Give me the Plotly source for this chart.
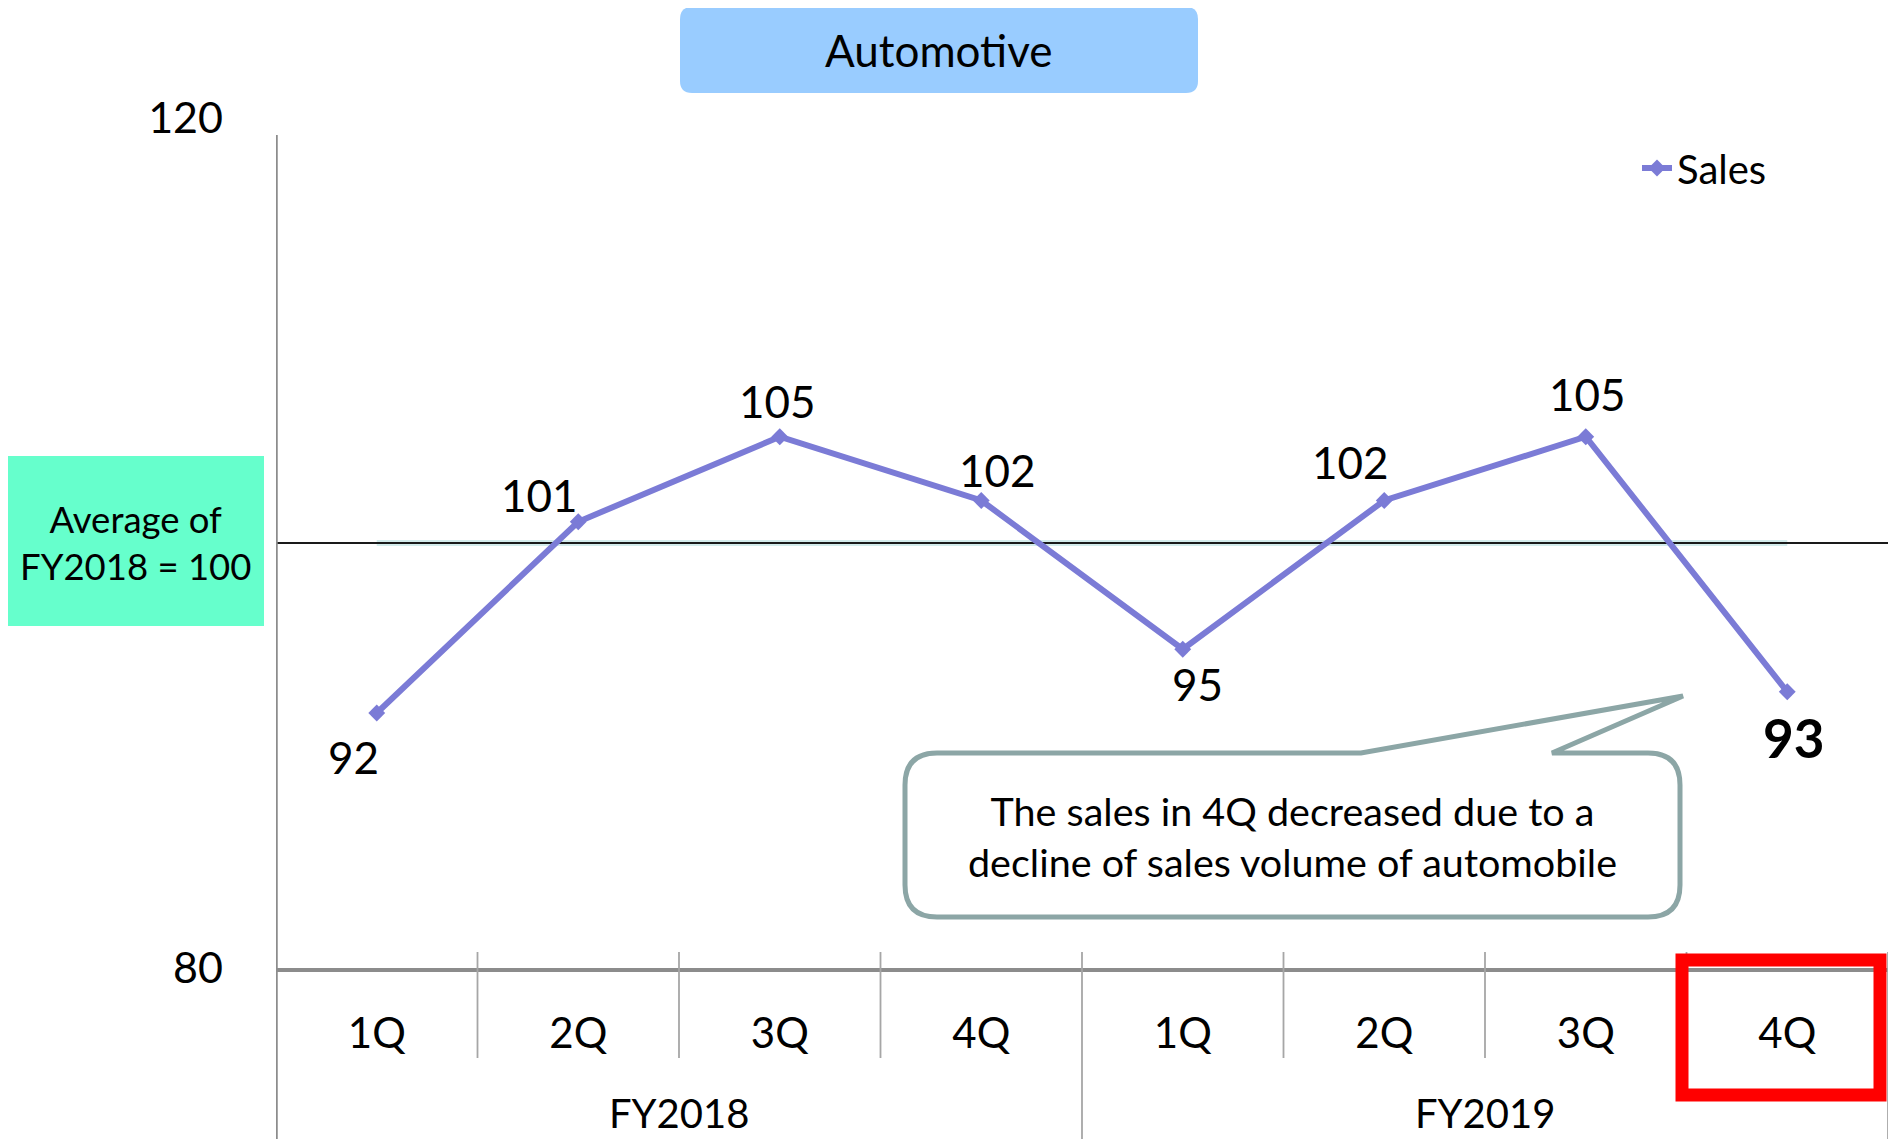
import plotly.graph_objects as go

# chart data
quarters = ["1Q", "2Q", "3Q", "4Q", "1Q", "2Q", "3Q", "4Q"]
fiscal_years = ["FY2018", "FY2019"]
sales = [92, 101, 105, 102, 95, 102, 105, 93]
average = [100, 100, 100, 100, 100, 100, 100, 100]

# label offsets (pixels) for each data label
label_dx = [-23, -39, -2, 16, 15, -34, 2, 6]
label_dy = [-44, 27, 36, 31, -35, 39, 43, -46]

FONT = "Lato"
# the page body has an 8px margin, so the figure is drawn 8px in from the corner
OFF = 8
W, H = 1896 - 2 * OFF, 1147 - 2 * OFF
L, T = 276 - OFF, 118 - OFF
PW, PH = 1612, 850
R, B = W - L - PW, H - T - PH


def px(x, y):
    # page pixel position -> paper coordinates
    return (x - OFF - L) / PW, (T + PH - (y - OFF)) / PH


def rounded_path(x0, y0, x1, y1, r, notch=None):
    def p(x, y):
        a, b = px(x, y)
        return f"{a:.5f},{b:.5f}"
    pts = ["M" + p(x0 + r, y0)]
    if notch:
        for (nx, ny) in notch:
            pts.append("L" + p(nx, ny))
    pts.append("L" + p(x1 - r, y0))
    pts.append("Q" + p(x1, y0) + " " + p(x1, y0 + r))
    pts.append("L" + p(x1, y1 - r))
    pts.append("Q" + p(x1, y1) + " " + p(x1 - r, y1))
    pts.append("L" + p(x0 + r, y1))
    pts.append("Q" + p(x0, y1) + " " + p(x0, y1 - r))
    pts.append("L" + p(x0, y0 + r))
    pts.append("Q" + p(x0, y0) + " " + p(x0 + r, y0))
    return " ".join(pts) + " Z"


xs = list(range(len(quarters)))
n = len(quarters)

fig = go.Figure()

fig.add_trace(go.Scatter(
    x=xs, y=average, mode="lines",
    line=dict(color="#D3ECEC", width=6),
    showlegend=False, hoverinfo="skip",
))
fig.add_trace(go.Scatter(
    x=[-0.5, n - 0.5], y=[average[0], average[-1]], mode="lines",
    line=dict(color="#1A1A1A", width=2.2),
    showlegend=False, hoverinfo="skip",
))
fig.add_trace(go.Scatter(
    x=xs, y=sales, mode="lines+markers", name="Sales",
    line=dict(color="#7B7BD6", width=6),
    marker=dict(symbol="diamond", size=13, color="#7B7BD6"),
))

annotations = []
for i, v in enumerate(sales):
    last = i == n - 1
    annotations.append(dict(
        x=xs[i], y=v, xref="x", yref="y", text=f"<b>{v}</b>" if last else str(v),
        showarrow=False, xshift=label_dx[i], yshift=label_dy[i],
        xanchor="center", yanchor="middle",
        font=dict(family=FONT, size=53 if last else 44, color="black"),
    ))

# fiscal year group labels
for g, fy in enumerate(fiscal_years):
    gx = g * 4 + 1.5
    annotations.append(dict(
        x=gx, y=px(0, 1113)[1], xref="x", yref="paper", text=fy,
        showarrow=False, xanchor="center", yanchor="middle",
        font=dict(family=FONT, size=40, color="black"),
    ))

# title box text
tx, ty = px(939, 50)
annotations.append(dict(x=tx, y=ty, xref="paper", yref="paper", text="Automotive",
                        showarrow=False, xanchor="center", yanchor="middle",
                        font=dict(family=FONT, size=44, color="black")))
# average box text
ax_, ay_ = px(135, 542)
annotations.append(dict(x=ax_, y=ay_, xref="paper", yref="paper",
                        text="Average of<br>FY2018 = 100", showarrow=False,
                        xanchor="center", yanchor="middle", align="center",
                        font=dict(family=FONT, size=36.5, color="black")))
# callout text
cx, cy = px(1292, 836)
annotations.append(dict(x=cx, y=cy, xref="paper", yref="paper",
                        text="The sales in 4Q decreased due to a<br>decline of sales volume of automobile",
                        showarrow=False, xanchor="center", yanchor="middle", align="center",
                        font=dict(family=FONT, size=39.5, color="black")))

shapes = []
# title box
shapes.append(dict(type="path", xref="paper", yref="paper",
                   path=rounded_path(680, 7, 1198, 93, 12),
                   fillcolor="#99CCFF", line=dict(width=0), layer="below"))
# average box
x0, y0 = px(7, 456)
x1, y1 = px(264, 626)
shapes.append(dict(type="rect", xref="paper", yref="paper", x0=x0, y0=y0, x1=x1, y1=y1,
                   fillcolor="#66FFCC", line=dict(width=0), layer="below"))
# callout
shapes.append(dict(type="path", xref="paper", yref="paper",
                   path=rounded_path(905, 753, 1680, 917, 32,
                                     notch=[(1361, 753), (1683, 696), (1552, 753)]),
                   fillcolor="white", line=dict(color="#8CA6A6", width=5)))

# y axis line (runs down to the bottom)
_, ytop = px(0, 135)
_, ybot = px(0, 1147)
_, ytick = px(0, 952)
_, yq = px(0, 1058)
shapes.append(dict(type="line", xref="x", yref="paper", x0=-0.5, x1=-0.5, y0=ytop, y1=ybot,
                   line=dict(color="#8C8C8C", width=3.5)))
# category dividers
for i in range(1, n + 1):
    long = i % 4 == 0
    shapes.append(dict(type="line", xref="x", yref="paper", x0=i - 0.5, x1=i - 0.5,
                       y0=ytick, y1=ybot if long else yq,
                       line=dict(color="#A6A6A6", width=1.8)))
# red highlight box
rx0, ry0 = px(1682, 960)
rx1, ry1 = px(1880, 1095)
shapes.append(dict(type="rect", xref="paper", yref="paper", x0=rx0, y0=ry0, x1=rx1, y1=ry1,
                   line=dict(color="#FF0000", width=13)))

lx, ly = px(1637, 168)
fig.update_layout(
    width=W, height=H,
    margin=dict(l=L, r=R, t=T, b=B, pad=0),
    paper_bgcolor="white", plot_bgcolor="white",
    font=dict(family=FONT, color="black"),
    showlegend=True,
    legend=dict(x=lx, y=ly, xanchor="left", yanchor="middle",
                font=dict(family=FONT, size=40, color="black"),
                bgcolor="rgba(0,0,0,0)"),
    xaxis=dict(range=[-0.5, n - 0.5], tickvals=xs, ticktext=quarters,
               showline=True, linecolor="#8C8C8C", linewidth=3.5,
               showgrid=False, zeroline=False, ticks="",
               ticklabelstandoff=26,
               tickfont=dict(family=FONT, size=42, color="black")),
    yaxis=dict(range=[80, 120], tickvals=[80, 120],
               showline=False, showgrid=False, zeroline=False, ticks="",
               ticklabelstandoff=52,
               tickfont=dict(family=FONT, size=43, color="black")),
    annotations=annotations,
    shapes=shapes,
)

fig.write_html("out.html")
